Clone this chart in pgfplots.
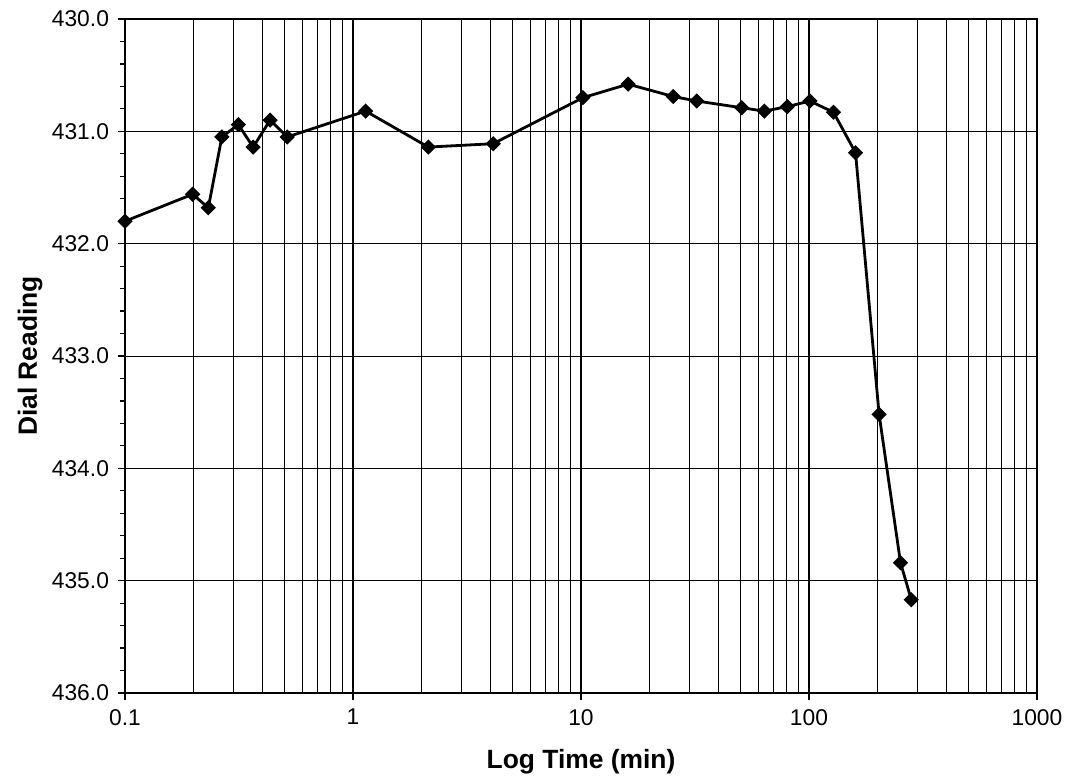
\documentclass[border=0pt]{standalone}
\usepackage{fontspec}
\setmainfont{Liberation Sans}
\usepackage{pgfplots}
\pgfplotsset{compat=1.18}

% dial readings against log time
\pgfplotstableread{
t      dial
0.1    431.80
0.198  431.56
0.232  431.68
0.266  431.05
0.314  430.94
0.365  431.14
0.433  430.90
0.515  431.05
1.137  430.82
2.14   431.14
4.12   431.11
10.2   430.70
16.1   430.58
25.4   430.69
32.2   430.73
50.7   430.79
63.7   430.82
80.3   430.78
101    430.73
128    430.83
160    431.19
203    433.52
252    434.84
281    435.17
}\dialdata

\begin{document}
\begin{tikzpicture}
\begin{axis}[
  name=main,
  scale only axis,
  width=456pt, height=337pt,
  xmode=log, log basis x=10,
  xmin=0.1, xmax=1000,
  ymin=430, ymax=436,
  y dir=reverse,
  xtick={0.1,1,10,100,1000},
  xticklabels={0.1,1,10,100,1000},
  minor xtick={0.2,0.3,0.4,0.5,0.6,0.7,0.8,0.9,2,3,4,5,6,7,8,9,20,30,40,50,60,70,80,90,200,300,400,500,600,700,800,900},
  ytick={430,431,...,436},
  extra y ticks={430.2,430.4,430.6,430.8,431.2,431.4,431.6,431.8,432.2,432.4,432.6,432.8,433.2,433.4,433.6,433.8,434.2,434.4,434.6,434.8,435.2,435.4,435.6,435.8},
  extra y tick labels={},
  extra y tick style={grid=none, major tick length=2.5pt},
  yticklabel style={xshift=-1pt, /pgf/number format/.cd, fixed, fixed zerofill, precision=1},
  /pgf/number format/assume math mode=true,
  /pgf/number format/1000 sep={},
  tick align=outside,
  xtick pos=bottom, ytick pos=left,
  major tick length=3.5pt,
  minor tick length=0pt,
  xmajorgrids, xminorgrids, ymajorgrids,
  major x grid style={black, line width=1.4pt},
  minor x grid style={black, line width=0.5pt},
  major y grid style={black, line width=0.5pt},
  axis line style={black, line width=1.4pt},
  tick style={black, line width=0.6pt},
  ticklabel style={font=\fontsize{11.4}{13}\selectfont},
  xticklabel style={yshift=-1pt},
  xlabel={Log Time (min)},
  ylabel={Dial Reading},
  label style={font=\fontsize{13.2}{15}\selectfont\bfseries},
  xlabel style={at={(axis description cs:0.5,-0.102)}, anchor=center},
  ylabel style={at={(axis description cs:-0.104,0.5)}, anchor=center},
]
\addplot[black, line width=1.4pt, mark=square*, mark size=2pt,
  mark options={rotate=45, solid, fill=black}] table[x=t, y=dial] {\dialdata};
\end{axis}
\pgfresetboundingbox
\path ([shift={(-62.5pt,-42.5pt)}]main.south west) rectangle ([shift={(470.5pt,346.5pt)}]main.south west);
\end{tikzpicture}
\end{document}
